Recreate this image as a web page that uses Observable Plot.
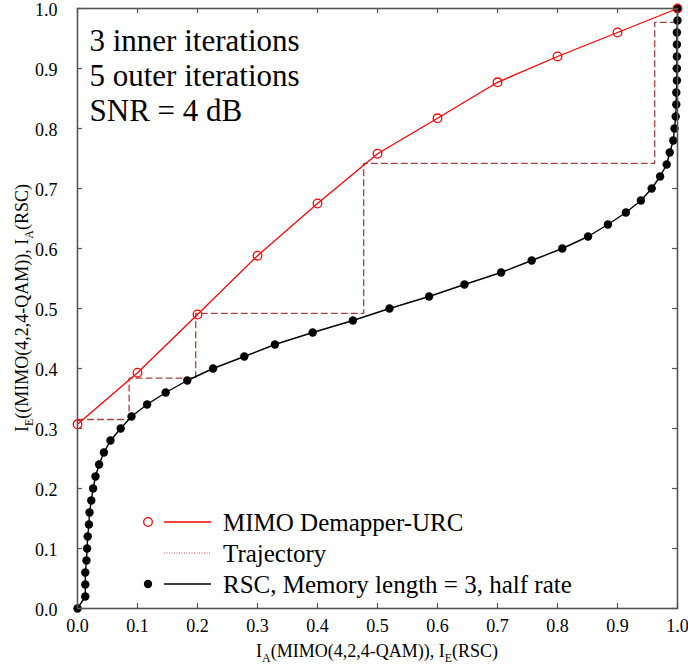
<!DOCTYPE html>
<html>
<head>
<meta charset="utf-8">
<script src="https://cdn.jsdelivr.net/npm/d3@7"></script>
<script src="https://cdn.jsdelivr.net/npm/@observablehq/plot@0.6"></script>
<style>
  body { margin: 0; background: #fff; }
  #chart svg { display: block; }
</style>
</head>
<body>
<div id="chart"></div>
<script>
// EXIT chart: MIMO demapper-URC transfer curve, RSC inverted curve and the decoding trajectory

// MIMO Demapper-URC: a priori input (x) and extrinsic output (y)
const demapperIA = [0.0, 0.1, 0.2, 0.3, 0.4, 0.5, 0.6, 0.7, 0.8, 0.9, 1.0];
const demapperIE = [0.307, 0.393, 0.490, 0.588, 0.675, 0.758, 0.817, 0.877, 0.920, 0.960, 1.0];

// RSC decoder (axes swapped): extrinsic output on x, a priori input on y
const rscIA = [
  0.00, 0.02, 0.04, 0.06, 0.08, 0.10, 0.12, 0.14, 0.16, 0.18,
  0.20, 0.22, 0.24, 0.26, 0.28, 0.30, 0.32, 0.34, 0.36, 0.38,
  0.40, 0.42, 0.44, 0.46, 0.48, 0.50, 0.52, 0.54, 0.56, 0.58,
  0.60, 0.62, 0.64, 0.66, 0.68, 0.70, 0.72, 0.74, 0.76, 0.78,
  0.80, 0.82, 0.84, 0.86, 0.88, 0.90, 0.92, 0.94, 0.96, 0.98, 1.00
];
const rscIE = [
  0.000, 0.013, 0.013, 0.013, 0.015, 0.016, 0.017, 0.019, 0.020, 0.023,
  0.026, 0.030, 0.036, 0.044, 0.055, 0.072, 0.090, 0.116, 0.147, 0.183,
  0.226, 0.278, 0.329, 0.392, 0.459, 0.520, 0.586, 0.645, 0.706, 0.757,
  0.808, 0.851, 0.884, 0.914, 0.939, 0.957, 0.971, 0.982, 0.987, 0.993,
  0.995, 0.997, 0.998, 0.998, 0.999, 0.999, 0.999, 0.999, 0.999, 1.000, 1.000
];

// Staircase decoding trajectory (5 outer iterations)
const trajX = [0.000, 0.086, 0.086, 0.197, 0.197, 0.477, 0.477, 0.962, 0.962, 1.000];
const trajY = [0.315, 0.315, 0.384, 0.384, 0.492, 0.492, 0.742, 0.742, 0.977, 0.977];

// Axis ticks
const ticks = [0.0, 0.1, 0.2, 0.3, 0.4, 0.5, 0.6, 0.7, 0.8, 0.9, 1.0];

const noteLines = ["3 inner iterations", "5 outer iterations", "SNR = 4 dB"];
const legendLabels = ["MIMO Demapper-URC", "Trajectory", "RSC, Memory length = 3, half rate"];

const demapper = demapperIA.map((x, i) => ({x, y: demapperIE[i]}));
const rsc = rscIA.map((y, i) => ({x: rscIE[i], y}));
const trajectory = trajX.map((x, i) => ({x, y: trajY[i]}));

const W = 688, H = 670;
const mL = 77, mR = 11, mT = 8, mB = 62;
const innerW = W - mL - mR, innerH = H - mT - mB;
const serif = "Liberation Serif, Times New Roman, Times, serif";
const frameColor = "#555";
const tickLen = 5;

const chart = Plot.plot({
  width: W,
  height: H,
  marginLeft: mL,
  marginRight: mR,
  marginTop: mT,
  marginBottom: mB,
  style: {fontFamily: serif, fontSize: "18px", background: "#fff", color: "#000"},
  x: {domain: [0, 1]},
  y: {domain: [0, 1]},
  marks: [
    // tick labels
    Plot.axisX(ticks, {anchor: "bottom", tickSize: 0, tickPadding: 11, tickFormat: d3.format(".1f"), label: null, fontSize: 18}),
    Plot.axisY(ticks, {anchor: "left", tickSize: 0, tickPadding: 20, dy: 1.5, tickFormat: d3.format(".1f"), label: null, fontSize: 18}),
    // inward tick marks on all four sides
    Plot.tickX(ticks, {x: d => d, insetTop: innerH - tickLen, stroke: frameColor, strokeWidth: 1.2}),
    Plot.tickX(ticks, {x: d => d, insetBottom: innerH - tickLen, stroke: frameColor, strokeWidth: 1.2}),
    Plot.tickY(ticks, {y: d => d, insetRight: innerW - tickLen, stroke: frameColor, strokeWidth: 1.2}),
    Plot.tickY(ticks, {y: d => d, insetLeft: innerW - tickLen, stroke: frameColor, strokeWidth: 1.2}),
    // trajectory
    Plot.line(trajectory, {x: "x", y: "y", stroke: "#a84444", strokeWidth: 1.3, strokeDasharray: "6,4", curve: "linear"}),
    // RSC curve
    Plot.line(rsc, {x: "x", y: "y", stroke: "#000", strokeWidth: 1.4}),
    Plot.dot(rsc, {x: "x", y: "y", r: 4.2, fill: "#000", stroke: "none"}),
    // MIMO demapper-URC curve
    Plot.line(demapper, {x: "x", y: "y", stroke: "#ff0000", strokeWidth: 1.3}),
    Plot.dot(demapper, {x: "x", y: "y", r: 4.3, fill: "none", stroke: "#ff0000", strokeWidth: 1.3}),
    // annotation
    Plot.text([noteLines.join("\n")], {
      frameAnchor: "top-left", dx: 12, dy: 18, text: d => d,
      textAnchor: "start", lineAnchor: "top", lineHeight: 1.13,
      fontSize: 31, fill: "#000"
    }),
    Plot.frame({stroke: frameColor, strokeWidth: 1.6})
  ]
});

document.getElementById("chart").appendChild(chart);

const svg = d3.select(chart);

// Axis titles with subscripts: each part is [text, isSubscript]
function subscriptLabel(g, parts) {
  let lowered = false;
  parts.forEach(([t, sub]) => {
    const span = g.append("tspan").text(t);
    if (sub && !lowered) { span.attr("font-size", 12).attr("dy", 5); lowered = true; }
    else if (!sub && lowered) { span.attr("dy", -5); lowered = false; }
  });
}

const xTitle = svg.append("text")
  .attr("x", mL + innerW / 2)
  .attr("y", 657)
  .attr("text-anchor", "middle")
  .attr("font-family", serif)
  .attr("font-size", 18)
  .attr("fill", "#000");
subscriptLabel(xTitle, [["I", false], ["A", true], ["(MIMO(4,2,4-QAM)), I", false], ["E", true], ["(RSC)", false]]);

const yTitle = svg.append("text")
  .attr("transform", `translate(28,${mT + innerH / 2}) rotate(-90)`)
  .attr("text-anchor", "middle")
  .attr("font-family", serif)
  .attr("font-size", 18)
  .attr("fill", "#000");
subscriptLabel(yTitle, [["I", false], ["E", true], ["((MIMO(4,2,4-QAM)), I", false], ["A", true], ["(RSC)", false]]);

// Legend
const legend = svg.append("g")
  .attr("font-family", serif)
  .attr("font-size", 25)
  .attr("text-anchor", "start");
const rows = [522, 553, 584];
// MIMO Demapper-URC
legend.append("circle").attr("cx", 148).attr("cy", rows[0]).attr("r", 4.3)
  .attr("fill", "none").attr("stroke", "#ff0000").attr("stroke-width", 1.3);
legend.append("line").attr("x1", 164).attr("x2", 211).attr("y1", rows[0]).attr("y2", rows[0])
  .attr("stroke", "#ff0000").attr("stroke-width", 1.3);
// Trajectory
legend.append("line").attr("x1", 164).attr("x2", 211).attr("y1", rows[1]).attr("y2", rows[1])
  .attr("stroke", "#c05050").attr("stroke-width", 1).attr("stroke-dasharray", "1,1.5");
// RSC
legend.append("circle").attr("cx", 148).attr("cy", rows[2]).attr("r", 4.2).attr("fill", "#000");
legend.append("line").attr("x1", 164).attr("x2", 211).attr("y1", rows[2]).attr("y2", rows[2])
  .attr("stroke", "#000").attr("stroke-width", 1.3);
legendLabels.forEach((t, i) => {
  legend.append("text").attr("x", 223).attr("y", rows[i]).attr("dy", "0.35em")
    .attr("text-anchor", "start").attr("fill", "#000").text(t);
});
</script>
</body>
</html>
